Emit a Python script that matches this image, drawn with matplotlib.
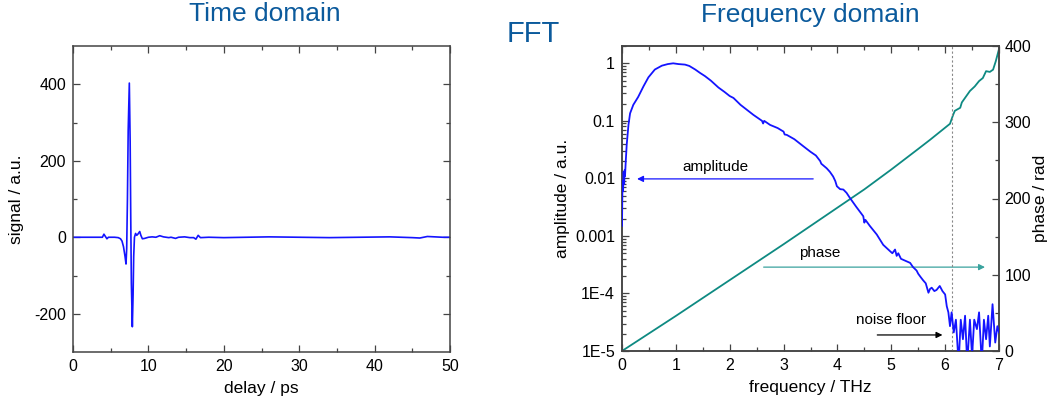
import matplotlib
matplotlib.use("Agg")
import matplotlib.pyplot as plt
from matplotlib.ticker import FixedLocator, FixedFormatter, MultipleLocator, LogLocator, NullFormatter

plt.rcParams['font.family'] = ['Liberation Sans', 'DejaVu Sans']
plt.rcParams['axes.unicode_minus'] = False

# ---- time-domain trace (delay in ps, signal in a.u.) ----
delay_ps = [0.0, 1.0, 2.0, 3.0, 3.9, 4.1, 4.3, 4.5, 4.7, 5.5, 6.0, 6.3, 6.5, 6.7,
            6.9, 7.03, 7.12, 7.22, 7.32, 7.47, 7.58, 7.66, 7.74, 7.87, 7.97, 8.05,
            8.15, 8.3, 8.45, 8.6, 8.85, 9.0, 9.2, 9.5, 10.0, 10.5, 11.0, 11.5, 12.0,
            12.7, 13.0, 13.6, 14.0, 14.8, 15.5, 16.0, 16.3, 16.6, 16.9, 18.0, 20.0,
            23.0, 26.0, 30.0, 34.0, 38.0, 42.0, 45.0, 46.0, 47.0, 48.0, 49.0, 50.0]
signal_au = [0, 0, 0, 0, 0, 8, 2, -4, 0, 0, -1, -4, -10, -25,
             -50, -70, -30, 100, 280, 403, 250, 50, -120, -234, -150, -50,
             0, 10, 5, 8, 15, 5, -4, -3, 0, 1, 0, 4, 1,
             -1, 0, -3, 0, 1, -1, -1, -5, 5, -1, 0, -1,
             0, 1, 0, -1, 0, 1, -1, -2, 2, 1, 0, 0]

# ---- spectrum: amplitude (normalised) vs frequency in THz ----
freq_thz = [0.0, 0.005, 0.01, 0.02, 0.03, 0.04, 0.05, 0.056, 0.07, 0.087, 0.12,
            0.15, 0.21, 0.30, 0.40, 0.49, 0.61, 0.74, 0.85, 0.95, 1.05, 1.17,
            1.25, 1.36, 1.45, 1.54, 1.65, 1.79, 1.9, 2.0, 2.07, 2.2, 2.44, 2.6,
            2.62, 2.64, 2.75, 2.89, 3.0, 3.02, 3.06, 3.2, 3.37, 3.5, 3.6, 3.68,
            3.70, 3.8, 3.86, 3.92, 3.96, 3.99, 4.05, 4.11, 4.17, 4.23, 4.35, 4.48,
            4.5, 4.52, 4.6, 4.73, 4.85, 4.98, 5.02, 5.07, 5.1, 5.13, 5.18, 5.29,
            5.35, 5.4, 5.47, 5.5, 5.55, 5.59, 5.64, 5.69, 5.72, 5.75, 5.8, 5.84,
            5.9, 5.95, 6.0, 6.03, 6.06, 6.09, 6.12, 6.16, 6.20, 6.25, 6.29, 6.33,
            6.37, 6.41, 6.46, 6.50, 6.54, 6.59, 6.63, 6.68, 6.72, 6.76, 6.80, 6.83,
            6.88, 6.93, 6.97, 7.0]
amplitude = [0.0015, 0.004, 0.009, 0.006, 0.013, 0.008, 0.014, 0.011, 0.02, 0.038, 0.085,
             0.135, 0.19, 0.26, 0.40, 0.57, 0.78, 0.91, 0.97, 1.0, 0.97, 0.95,
             0.9, 0.78, 0.68, 0.6, 0.5, 0.38, 0.32, 0.27, 0.25, 0.19, 0.127, 0.1,
             0.09, 0.1, 0.085, 0.075, 0.065, 0.058, 0.057, 0.048, 0.036, 0.029, 0.025, 0.02,
             0.018, 0.015, 0.013, 0.0108, 0.009, 0.0073, 0.0065, 0.0064, 0.0056, 0.0046, 0.0032, 0.0022,
             0.0017, 0.0019, 0.0015, 0.00106, 0.0007, 0.00054, 0.0005, 0.00058, 0.00045, 0.0005, 0.0004, 0.00036,
             0.00034, 0.00029, 0.00025, 0.00022, 0.00019, 0.00017, 0.00015, 0.000103, 0.00012, 0.000126, 0.00011, 0.000115,
             0.000135, 0.00011, 0.000096, 0.00006, 0.000047, 2.7e-5, 4.7e-5, 2.1e-5, 3.5e-5, 6e-6, 3.5e-5, 1.6e-5,
             4.1e-5, 6e-6, 3.5e-5, 8e-6, 3.5e-5, 2.4e-5, 4.7e-5, 6e-6, 3.5e-5, 1.6e-5, 4.1e-5, 1.2e-5,
             6.5e-5, 1.4e-5, 2.7e-5, 2.1e-5]

# ---- spectrum: unwrapped phase (rad) ----
phase_freq_thz = [0.0, 1.0, 2.0, 3.0, 4.0, 4.5, 5.0, 5.5, 5.72, 6.09, 6.15, 6.18,
                  6.28, 6.31, 6.37, 6.46, 6.55, 6.63, 6.70, 6.76, 6.83, 6.89, 6.94, 7.0]
phase_rad = [0, 46, 93, 140, 188, 212, 238, 265, 277, 298, 310, 315,
             319, 326, 332, 341, 347, 354, 358, 367, 366, 369, 380, 396]

noise_floor_thz = 6.12

time_xticks = [0, 10, 20, 30, 40, 50]
time_yticks = [-200, 0, 200, 400]
amp_ticks = [1e-5, 1e-4, 1e-3, 1e-2, 1e-1, 1]
amp_tick_labels = ['1E-5', '1E-4', '0.001', '0.01', '0.1', '1']
phase_ticks = [0, 100, 200, 300, 400]

title_color = '#0b5a9c'
amp_color = '#1414ff'
phase_color = '#0e8a82'
phase_arrow_color = '#3aa39e'
spine_color = '#444444'

W, H = 1053, 405
fig = plt.figure(figsize=(W / 100, H / 100), dpi=100)


def frame(ax):
    for s in ax.spines.values():
        s.set_color(spine_color)
        s.set_linewidth(1.1)


def ticks(ax, **kw):
    ax.tick_params(which='both', direction='in', colors=spine_color,
                   labelcolor='black', labelsize=11.5, width=0.9, **kw)
    ax.tick_params(which='major', length=5, pad=5)
    ax.tick_params(which='minor', length=3)


# ---------------- time domain ----------------
ax1 = fig.add_axes([73 / W, (H - 352) / H, 377 / W, 306 / H])
ax1.plot(delay_ps, signal_au, color=amp_color, lw=1.2)
ax1.set_xlim(0, 50)
ax1.set_ylim(-300, 500)
ax1.set_xticks(time_xticks)
ax1.set_yticks(time_yticks)
ax1.xaxis.set_minor_locator(MultipleLocator(5))
ax1.yaxis.set_minor_locator(FixedLocator([-100, 100, 300]))
frame(ax1)
ticks(ax1, top=True, right=True)
ax1.set_xlabel('delay / ps', fontsize=12.5, labelpad=5)
ax1.set_ylabel('signal / a.u.', fontsize=12.5, labelpad=7)
fig.text(265 / W, 1 - 14 / H, 'Time domain', color=title_color, fontsize=19,
         ha='center', va='center')

# ---------------- frequency domain ----------------
ax2 = fig.add_axes([622 / W, (H - 351) / H, 377 / W, 305 / H])
ax2.set_xlim(0, 7)
ax2.set_yscale('log')
ax2.set_ylim(1e-5, 2)
ax2.plot(freq_thz, amplitude, color=amp_color, lw=1.3, zorder=3)
ax2.yaxis.set_major_locator(FixedLocator(amp_ticks))
ax2.yaxis.set_major_formatter(FixedFormatter(amp_tick_labels))
ax2.yaxis.set_minor_locator(LogLocator(base=10, subs=range(2, 10)))
ax2.yaxis.set_minor_formatter(NullFormatter())
ax2.xaxis.set_major_locator(MultipleLocator(1))
ax2.xaxis.set_minor_locator(MultipleLocator(0.5))
frame(ax2)
ticks(ax2, top=True)
ax2.set_xlabel('frequency / THz', fontsize=12.5, labelpad=5)
ax2.set_ylabel('amplitude / a.u.', fontsize=12.5, labelpad=4)
ax2.axvline(noise_floor_thz, color='#888888', lw=0.8, ls=(0, (2, 2)), zorder=1)

ax3 = ax2.twinx()
ax3.set_ylim(0, 400)
ax3.plot(phase_freq_thz, phase_rad, color=phase_color, lw=1.3, zorder=2)
ax3.set_yticks(phase_ticks)
ax3.yaxis.set_minor_locator(MultipleLocator(50))
frame(ax3)
ticks(ax3)
ax3.tick_params(which='major', pad=4)
ax3.set_ylabel('phase / rad', fontsize=12.5, labelpad=1)
ax2.set_zorder(ax3.get_zorder() + 1)
ax2.patch.set_visible(False)

# annotations
ax2.annotate('', xy=(0.28, 0.0098), xytext=(3.55, 0.0098),
             arrowprops=dict(arrowstyle='-|>', color=amp_color, lw=0.9,
                             mutation_scale=9, shrinkA=0, shrinkB=0))
ax2.text(1.74, 0.016, 'amplitude', fontsize=11, ha='center', va='center')

ax3.annotate('', xy=(6.74, 110), xytext=(2.63, 110),
             arrowprops=dict(arrowstyle='-|>', color=phase_arrow_color, lw=0.9,
                             mutation_scale=9, shrinkA=0, shrinkB=0))
ax3.text(3.67, 129, 'phase', fontsize=11, ha='center', va='center')

ax2.annotate('', xy=(5.95, 1.9e-5), xytext=(4.74, 1.9e-5),
             arrowprops=dict(arrowstyle='-|>', color='black', lw=0.9,
                             mutation_scale=9, shrinkA=0, shrinkB=0))
ax2.text(4.99, 3.4e-5, 'noise floor', fontsize=11, ha='center', va='center')

fig.text(810 / W, 1 - 15 / H, 'Frequency domain', color=title_color, fontsize=19,
         ha='center', va='center')
fig.text(533 / W, 1 - 34 / H, 'FFT', color=title_color, fontsize=21,
         ha='center', va='center')

fig.savefig('out.png', dpi=100)
